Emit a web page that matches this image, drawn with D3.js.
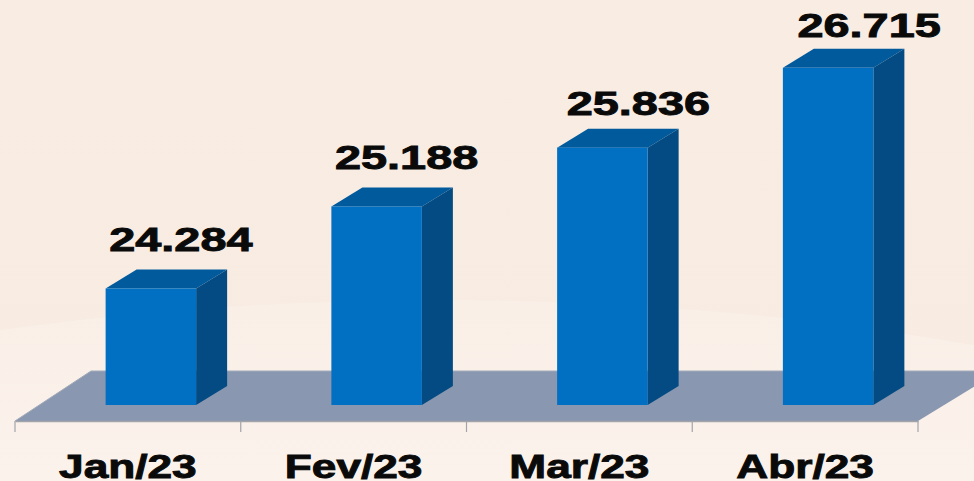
<!DOCTYPE html>
<html><head><meta charset="utf-8">
<script src="https://cdnjs.cloudflare.com/ajax/libs/d3/7.8.5/d3.min.js"></script>
<style>html,body{margin:0;padding:0;background:#f8ede4;overflow:hidden}svg{display:block}</style>
</head><body><svg id="c" width="974" height="481"></svg>
<script>
const categories = ["Jan/23","Fev/23","Mar/23","Abr/23"];
const values = [24284,25188,25836,26715];
const valueLabels = ["24.284","25.188","25.836","26.715"];

const W=974,H=481, axisY=421, depthX=31, depthY=19, floorBase=405;
const labelNudgeX=[30,30,36,41], labelNudgeY=[37,37,33,31];
const svg=d3.select("#c");
const x=d3.scaleBand().domain(categories).range([15,918]).paddingInner(0).paddingOuter(0);
const barW=90.5;
const y=d3.scaleLinear().domain([23000,27000]).range([floorBase,floorBase-363]);
const defs=svg.append("defs");
const bg=defs.append("linearGradient").attr("id","bg").attr("x1",0).attr("x2",0).attr("y1",0).attr("y2",1);
bg.append("stop").attr("offset",0).attr("stop-color","#f8ece3");
bg.append("stop").attr("offset",1).attr("stop-color","#f7ebe2");
const bg2=defs.append("linearGradient").attr("id","bg2").attr("x1",0).attr("x2",0).attr("y1",0).attr("y2",1);
bg2.append("stop").attr("offset",0).attr("stop-color","#f9efe7");
bg2.append("stop").attr("offset",0.35).attr("stop-color","#fcf3ed");
bg2.append("stop").attr("offset",1).attr("stop-color","#fdf6f1");
svg.append("rect").attr("width",W).attr("height",H).attr("fill","url(#bg)");
svg.append("ellipse").attr("cx",440).attr("cy",640).attr("rx",1070).attr("ry",340).attr("fill","url(#bg2)");

// floor
const x0=x.range()[0],x1=x.range()[1];
svg.append("path").attr("d",d3.line()([[x0,axisY],[x1,axisY],[W+2,axisY-(W+2-x1)*0.61],[W+2,axisY-50],[x0+76,axisY-50]])+"Z")
 .attr("fill","#8a97b0");
svg.append("path").attr("d",d3.line()([[x0,axisY],[x0+76,axisY-50],[W+2,axisY-50]])).attr("fill","none").attr("stroke","#a3abb9").attr("stroke-width",1);
// axis
const axis=d3.axisBottom(x).tickSize(0).tickFormat("");
const gA=svg.append("g").attr("transform",`translate(0,${axisY})`).call(axis);
gA.select(".domain").attr("stroke","#a2a4aa").attr("stroke-width",1.5);
const edges=[...categories.map(c=>x(c)),x1];
gA.selectAll("line.e").data(edges).join("line").attr("class","e").attr("x1",d=>d).attr("x2",d=>d).attr("y1",0).attr("y2",11).attr("stroke","#a2a4aa").attr("stroke-width",1.2);

const bars=svg.append("g").selectAll("g").data(categories).join("g");
const left=c=>x(c)+x.bandwidth()/2-barW/2+23;
const v=(c,i)=>values[i];
bars.append("path").attr("fill","#005a9c").attr("d",(c,i)=>{const l=left(c),t=y(v(c,i));return d3.line()([[l,t],[l+barW,t],[l+barW+depthX,t-depthY],[l+depthX,t-depthY]])+"Z";});
bars.append("path").attr("fill","#034b82").attr("d",(c,i)=>{const l=left(c)+barW,t=y(v(c,i));return d3.line()([[l,t],[l+depthX,t-depthY],[l+depthX,floorBase-depthY],[l,floorBase]])+"Z";});
bars.append("rect").attr("fill","#0270c2").attr("x",c=>left(c)).attr("width",barW).attr("y",(c,i)=>y(v(c,i))).attr("height",(c,i)=>floorBase-y(v(c,i)));

const tstyle=s=>s.attr("font-family","'Liberation Sans',Arial,sans-serif").attr("font-weight",700).attr("fill","#0a0a0a").attr("text-anchor","middle").attr("font-size",33).attr("stroke","#0a0a0a").attr("stroke-width",0.9);
svg.append("g").selectAll("text").data(valueLabels).join("text").call(tstyle)
 .attr("transform",(d,i)=>`translate(${left(categories[i])+barW/2+labelNudgeX[i]},${y(values[i])-labelNudgeY[i]}) scale(1.42,1)`).text(d=>d);
svg.append("g").selectAll("text").data(categories).join("text").call(tstyle)
 .attr("transform",c=>`translate(${x(c)+x.bandwidth()/2},478) scale(1.34,1)`).text(c=>c);
</script></body></html>
